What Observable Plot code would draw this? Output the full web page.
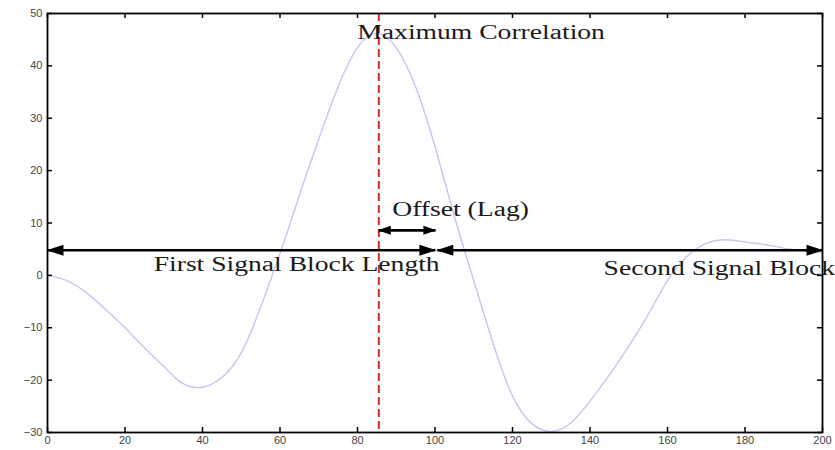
<!DOCTYPE html>
<html>
<head>
<meta charset="utf-8">
<script src="https://cdn.jsdelivr.net/npm/d3@7"></script>
<script src="https://cdn.jsdelivr.net/npm/@observablehq/plot@0.6"></script>
<style>
  html, body { margin: 0; padding: 0; background: #fff; }
</style>
</head>
<body>
<div id="chart"></div>
<script>
// ---- data ----
const lagX = [0, 5, 10, 15, 20, 25, 30, 34, 38, 42, 46, 50, 54, 58, 62, 66, 70, 75, 80, 85, 90, 95, 100, 105, 110, 115, 120, 125, 130, 135, 140, 145, 150, 155, 160, 165, 170, 175, 180, 185, 190, 195, 200];
const corrY = [0, -1, -3.3, -6.5, -10, -13.8, -17.4, -20.2, -21.4, -20.9, -18.8, -14.8, -8, 0, 8.5, 17.5, 26, 36, 43.5, 46.2, 43.5, 36, 24.6, 11.3, -1, -13, -23, -28.3, -29.8, -28.2, -24, -19, -13.5, -7.5, -1, 3.6, 6.1, 6.8, 6.4, 5.9, 5.2, 4.7, 4.3];

const maxLag = 85.5;

const arrowNames = ["First Signal Block Length", "Second Signal Block", "Offset (Lag)"];
const arrowStart = [0, 100.6, 85.5];
const arrowEnd = [100.1, 200, 100.1];
const arrowLevel = [4.8, 4.8, 8.6];
const arrowKind = ["block", "block", "offset"];

const labelTexts = ["Maximum Correlation", "Offset (Lag)", "First Signal Block Length", "Second Signal Block"];
const labelX = [111.9, 106.6, 64.3, 143.5];
const labelY = [46.3, 12.6, 2.0, 1.2];
const labelAnchor = ["middle", "middle", "middle", "start"];

const xTicks = [0, 20, 40, 60, 80, 100, 120, 140, 160, 180, 200];
const yTicks = [-30, -20, -10, 0, 10, 20, 30, 40, 50];

// ---- tables built from the arrays ----
const curve = lagX.map((x, i) => ({x, y: corrY[i]}));
const arrows = arrowNames.map((name, i) => ({name, x1: arrowStart[i], x2: arrowEnd[i], y: arrowLevel[i], kind: arrowKind[i]}));
const labels = labelTexts.map((text, i) => ({text, x: labelX[i], y: labelY[i], anchor: labelAnchor[i]}));

const W = 835, H = 450;
const mL = 47, mR = 13, mT = 13, mB = 18;
const plotH = H - mT - mB;
const plotW = W - mL - mR;
const tickLen = 5;

function head(dir, len, half) {
  return {draw(ctx) {
    ctx.moveTo(dir, 0);
    ctx.lineTo(-dir * len, -half);
    ctx.lineTo(-dir * len, half);
    ctx.closePath();
  }};
}
const bigRight = head(1, 16, 5.5), bigLeft = head(-1, 16, 5.5);
const smallRight = head(1, 12, 4.5), smallLeft = head(-1, 12, 4.5);

const serif = "'Liberation Serif', 'Times New Roman', serif";
const textStyle = {x: "x", y: "y", text: "text", lineAnchor: "middle", fontFamily: serif, fontSize: 20, fill: "#1a1a1a", className: "ann"};

const chart = Plot.plot({
  width: W,
  height: H,
  marginLeft: mL,
  marginRight: mR,
  marginTop: mT,
  marginBottom: mB,
  style: {fontFamily: "'Liberation Sans', Arial, sans-serif", fontSize: "11px", background: "#fff", overflow: "visible"},
  x: {domain: [0, 200], label: null},
  y: {domain: [-30, 50], label: null},
  marks: [
    Plot.line(curve, {x: "x", y: "y", stroke: "#c6c6ee", strokeWidth: 1.4, curve: "natural"}),
    Plot.ruleX([maxLag], {stroke: "#d42a2a", strokeWidth: 2, strokeDasharray: "8,4"}),
    Plot.link(arrows, {x1: "x1", x2: "x2", y1: "y", y2: "y", stroke: "#000", strokeWidth: 2.6}),
    Plot.dot(arrows, {filter: d => d.kind === "block", x: "x1", y: "y", symbol: bigLeft, fill: "#000", stroke: "none"}),
    Plot.dot(arrows, {filter: d => d.kind === "block", x: "x2", y: "y", symbol: bigRight, fill: "#000", stroke: "none"}),
    Plot.dot(arrows, {filter: d => d.kind === "offset", x: "x1", y: "y", symbol: smallLeft, fill: "#000", stroke: "none"}),
    Plot.dot(arrows, {filter: d => d.kind === "offset", x: "x2", y: "y", symbol: smallRight, fill: "#000", stroke: "none"}),
    Plot.text(labels, {...textStyle, filter: d => d.anchor === "middle", textAnchor: "middle"}),
    Plot.text(labels, {...textStyle, filter: d => d.anchor === "start", textAnchor: "start"}),
    Plot.frame({stroke: "#000", strokeWidth: 1.8}),
    Plot.tickX(xTicks, {x: d => d, insetTop: plotH - tickLen, stroke: "#000", strokeWidth: 1.5}),
    Plot.tickX(xTicks, {x: d => d, insetBottom: plotH - tickLen, stroke: "#000", strokeWidth: 1.5}),
    Plot.tickY(yTicks, {y: d => d, insetRight: plotW - tickLen, stroke: "#000", strokeWidth: 1.5}),
    Plot.tickY(yTicks, {y: d => d, insetLeft: plotW - tickLen, stroke: "#000", strokeWidth: 1.5}),
    Plot.axisX(xTicks, {tickSize: 0, tickPadding: 4, fill: "#444", fontSize: 11}),
    Plot.axisY(yTicks, {tickSize: 0, tickPadding: 5, fill: "#444", fontSize: 11})
  ]
});

document.getElementById("chart").appendChild(chart);

// stretch the serif annotations horizontally like the reference
d3.select(chart).selectAll("g.ann text").each(function() {
  const w = this.getComputedTextLength();
  this.setAttribute("textLength", (w * 1.38).toFixed(1));
  this.setAttribute("lengthAdjust", "spacingAndGlyphs");
});
</script>
</body>
</html>
